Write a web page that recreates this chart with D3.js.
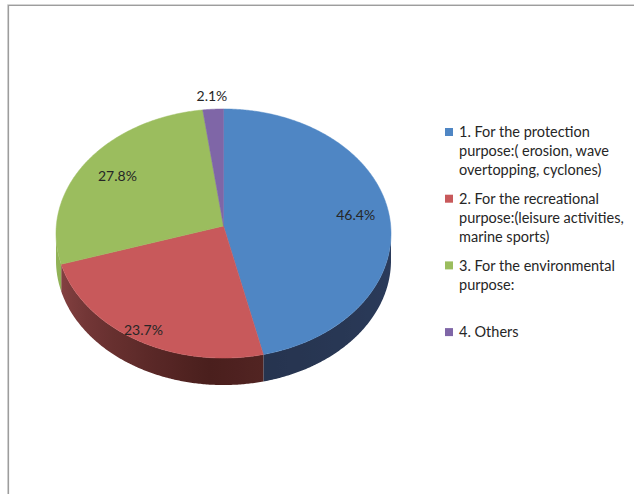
<!DOCTYPE html>
<html>
<head>
<meta charset="utf-8">
<script src="https://cdn.jsdelivr.net/npm/d3@7"></script>
<style>
  html, body { margin: 0; padding: 0; background: #fff; }
  svg { display: block; }
  text { font-family: Lato, "Open Sans", sans-serif; fill: #262626; }
</style>
</head>
<body>
<svg id="chart" width="634" height="494"></svg>
<script>
// Share of each purpose (percent)
const categories = ["protection", "recreational", "environmental", "others"];
const values = [46.4, 23.7, 27.8, 2.1];
const legendLines = [
  ["1. For the protection", "purpose:( erosion, wave", "overtopping, cyclones)"],
  ["2. For the recreational", "purpose:(leisure activities,", "marine sports)"],
  ["3. For the environmental", "purpose:"],
  ["4. Others"]
];

const topColors  = ["#4f86c4", "#c8595b", "#9bbd5e", "#7f66a7"];
const sideDark   = ["#25324c", "#4a1f1d", "#7d9c49", "#3f3355"];
const sideLight  = ["#2f4266", "#8f4748", "#93b458", "#5a4a7a"];
const labelRadius = [0.80, 0.92, 0.77, 1.12];

const svg = d3.select("#chart");
const defs = svg.append("defs");

// frame
svg.append("path")
  .attr("d", "M7.5,494 L7.5,4.5 L634,4.5")
  .attr("fill", "none").attr("stroke", "#d4d4d4").attr("stroke-width", 1);
svg.append("path")
  .attr("d", "M8.5,494 L8.5,5.5 L634,5.5")
  .attr("fill", "none").attr("stroke", "#9d9d9d").attr("stroke-width", 1.2);

const color = d3.scaleOrdinal().domain(categories).range(topColors);

// perspective projection of a tilted disc
const cx = 223.5, cy = 226, fx = 167.2, fy = 124.1, persp = 0.0603, depth = 27;
function proj(theta, t = 1) {
  const s = Math.sin(theta) * t, c = Math.cos(theta) * t;
  const d = 1 + persp * c;
  return [cx + fx * s / d, cy - fy * c / d];
}

const pie = d3.pie().sort(null).value(d => d.value);
const arcs = pie(categories.map((k, i) => ({ key: k, value: values[i], i })));

const step = Math.PI / 360;
const thetaR = Math.acos(-persp), thetaL = 2 * Math.PI - thetaR;
const xLeft = proj(thetaL)[0], xRight = proj(thetaR)[0];

// rim shade: darkest near the front, lighter toward the left edge
function shade(i, theta) {
  const deg = theta * 180 / Math.PI;
  const w = deg > 185 ? Math.min(1, (deg - 185) / 80) : Math.min(1, (185 - deg) / 90) * 0.6;
  return d3.interpolateRgb(sideDark[i], sideLight[i])(w);
}

// side walls (front-facing part of the rim)
const sides = svg.append("g");
arcs.forEach(a => {
  const i = a.data.i;
  const s0 = Math.max(a.startAngle, thetaR), s1 = Math.min(a.endAngle, thetaL);
  if (s1 <= s0) return;
  const gid = "side" + i;
  const grad = defs.append("linearGradient").attr("id", gid)
    .attr("gradientUnits", "userSpaceOnUse")
    .attr("x1", xLeft).attr("x2", xRight).attr("y1", 0).attr("y2", 0);
  const stops = [];
  for (let k = 0; k <= 40; k++) {
    const th = thetaR + (thetaL - thetaR) * k / 40;
    stops.push({ off: (proj(th)[0] - xLeft) / (xRight - xLeft), col: shade(i, th) });
  }
  stops.sort((p, q) => p.off - q.off).forEach(st =>
    grad.append("stop").attr("offset", Math.max(0, Math.min(1, st.off))).attr("stop-color", st.col));

  const n = Math.max(2, Math.ceil((s1 - s0) / step));
  const topPts = [], botPts = [];
  for (let k = 0; k <= n; k++) {
    const p = proj(s0 + (s1 - s0) * k / n);
    topPts.push(p);
    botPts.push([p[0], p[1] + depth]);
  }
  sides.append("path")
    .attr("d", d3.line()(topPts.concat(botPts.reverse())) + "Z")
    .attr("fill", `url(#${gid})`);
});

// top faces
const tops = svg.append("g");
arcs.forEach(a => {
  const pts = [[cx, cy]];
  const n = Math.max(2, Math.ceil((a.endAngle - a.startAngle) / step));
  for (let k = 0; k <= n; k++) pts.push(proj(a.startAngle + (a.endAngle - a.startAngle) * k / n));
  tops.append("path")
    .attr("d", d3.line()(pts) + "Z")
    .attr("fill", color(a.data.key))
    .attr("stroke", color(a.data.key)).attr("stroke-width", 0.5);
});

// value labels
svg.append("g").selectAll("text").data(arcs).join("text")
  .attr("x", a => proj((a.startAngle + a.endAngle) / 2, labelRadius[a.data.i])[0])
  .attr("y", a => proj((a.startAngle + a.endAngle) / 2, labelRadius[a.data.i])[1])
  .attr("text-anchor", "middle").attr("dy", "0.36em")
  .attr("font-size", 14)
  .text(a => a.data.value.toFixed(1) + "%");

// legend
const legend = svg.append("g");
legendLines.forEach((lines, i) => {
  const y0 = 132 + i * 66.7;
  legend.append("rect")
    .attr("x", 445).attr("y", y0 - 4).attr("width", 8).attr("height", 8)
    .attr("fill", color(categories[i]));
  lines.forEach((ln, j) => {
    legend.append("text")
      .attr("x", 459).attr("y", y0 + j * 19).attr("dy", "0.36em")
      .attr("font-size", 14.5)
      .text(ln);
  });
});
</script>
</body>
</html>
